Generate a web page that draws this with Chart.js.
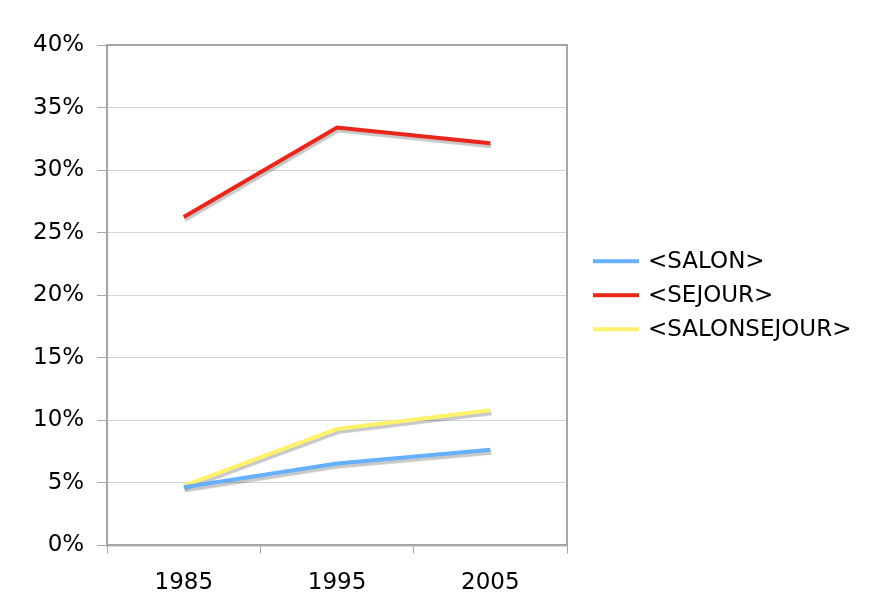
<!DOCTYPE html>
<html>
<head>
<meta charset="utf-8">
<script src="https://cdn.jsdelivr.net/npm/chart.js@4"></script>
<style>
  html, body { margin: 0; padding: 0; background: #fff; }
  #wrap { width: 870px; height: 609px; }
</style>
</head>
<body>
<div id="wrap"><canvas id="chart"></canvas></div>
<script>
const years = ["1985", "1995", "2005"];
const seriesNames = ["<SALON>", "<SEJOUR>", "<SALONSEJOUR>"];
const seriesColors = ["#66b0ff", "#e8261a", "#fff26b"];
const salon = [4.65, 6.55, 7.65];
const sejour = [26.25, 33.4, 32.15];
const salonSejour = [4.75, 9.3, 10.8];
const yTicks = [0, 5, 10, 15, 20, 25, 30, 35, 40];

const FONT = "'DejaVu Sans', Verdana, sans-serif";

// soft grey shadow under every line, like the original
const lineShadow = {
  id: "lineShadow",
  beforeDatasetDraw(chart) {
    const ctx = chart.ctx;
    ctx.save();
    ctx.shadowColor = "rgba(0,0,0,0.22)";
    ctx.shadowOffsetX = 1;
    ctx.shadowOffsetY = 3;
    ctx.shadowBlur = 1;
  },
  afterDatasetDraw(chart) {
    chart.ctx.restore();
  }
};

// grey frame round the plot area
const frame = {
  id: "frame",
  beforeDatasetsDraw(chart) {
    const a = chart.chartArea;
    const ctx = chart.ctx;
    ctx.save();
    ctx.strokeStyle = "#a6a6a6";
    ctx.lineWidth = 2;
    ctx.strokeRect(a.left, a.top, a.right - a.left, a.bottom - a.top);
    ctx.restore();
  }
};

// legend on the right, drawn by hand so it is not clipped
const sideLegend = {
  id: "sideLegend",
  afterDraw(chart) {
    const ctx = chart.ctx;
    const a = chart.chartArea;
    const mid = (a.top + a.bottom) / 2;
    const x0 = a.right + 26;
    ctx.save();
    ctx.font = "23px " + FONT;
    ctx.textBaseline = "middle";
    chart.data.datasets.forEach((ds, i) => {
      const y = mid + (i - 1) * 34;
      ctx.fillStyle = ds.borderColor;
      ctx.fillRect(x0, y - 2, 46, 4);
      ctx.fillStyle = "#000";
      ctx.fillText(ds.label, x0 + 55, y + 1);
    });
    ctx.restore();
  }
};

Chart.defaults.font.family = FONT;
Chart.defaults.font.size = 23;
Chart.defaults.color = "#000";

new Chart(document.getElementById("chart"), {
  type: "line",
  data: {
    labels: years,
    datasets: [salon, sejour, salonSejour].map((vals, i) => ({
      label: seriesNames[i],
      data: vals,
      borderColor: seriesColors[i],
      backgroundColor: seriesColors[i],
      borderWidth: 4,
      pointRadius: 0,
      tension: 0,
      fill: false
    }))
  },
  options: {
    responsive: true,
    maintainAspectRatio: false,
    animation: false,
    layout: { padding: { left: 20, top: 45, right: 303, bottom: 2 } },
    plugins: {
      legend: { display: false },
      tooltip: { enabled: false }
    },
    scales: {
      x: {
        offset: true,
        afterFit(axis) { axis.height -= 6; },
        grid: { offset: true, drawOnChartArea: false, drawTicks: true, tickLength: 8, color: "#a6a6a6", lineWidth: 1 },
        border: { color: "#a6a6a6", width: 2 },
        ticks: { padding: 16, font: { size: 23 } }
      },
      y: {
        min: 0,
        max: 40,
        afterBuildTicks(axis) { axis.ticks = yTicks.map(v => ({ value: v })); },
        grid: { color: "#d4d4d4", lineWidth: 1, tickLength: 10, tickColor: "#a6a6a6" },
        border: { color: "#a6a6a6", width: 2 },
        ticks: { padding: 13, font: { size: 23 }, callback: v => v + "%" }
      }
    }
  },
  plugins: [lineShadow, frame, sideLegend]
});
</script>
</body>
</html>
